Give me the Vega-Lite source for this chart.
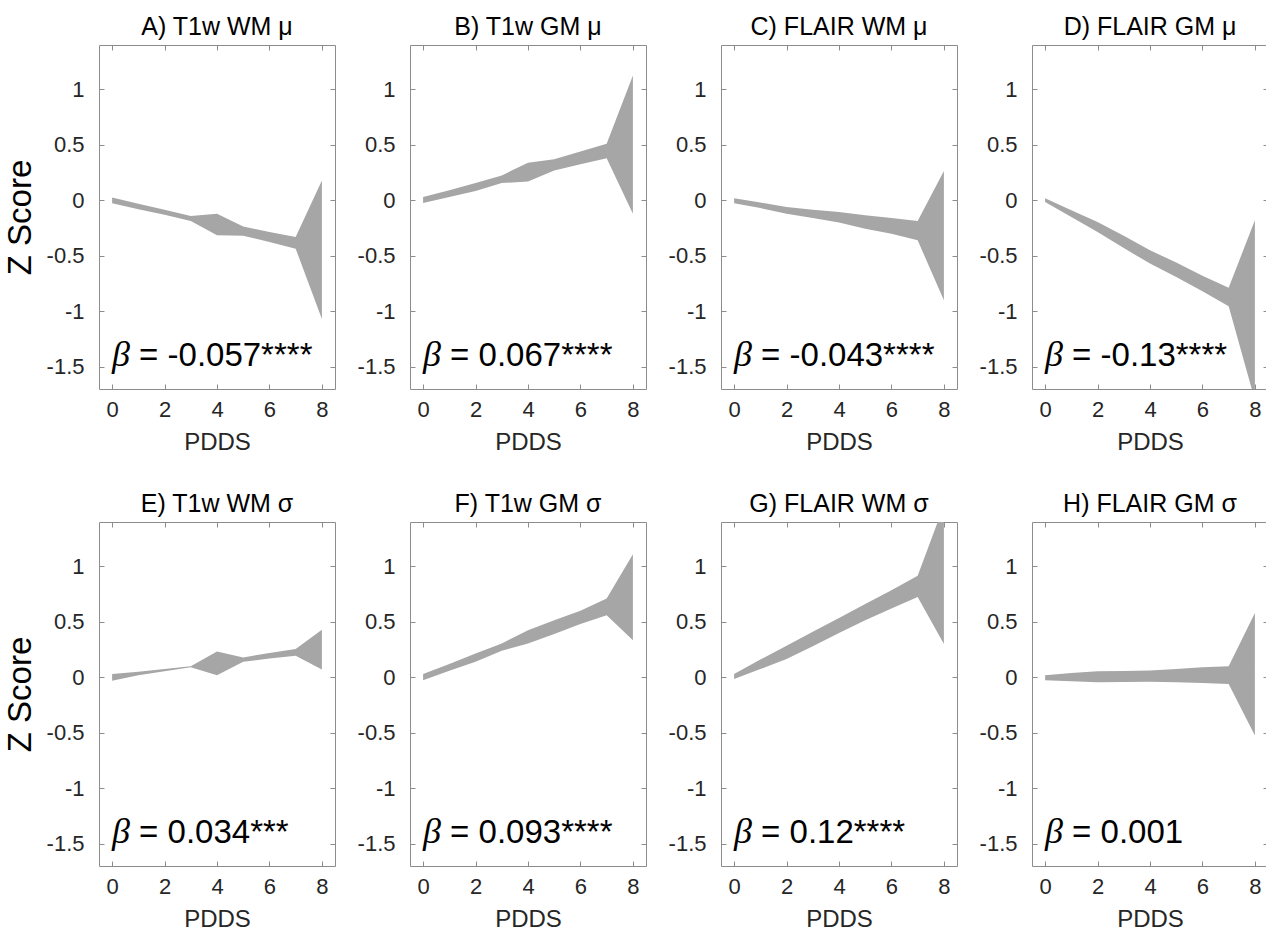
{
  "$schema": "https://vega.github.io/schema/vega-lite/v6.json",
  "padding": {"left": 3, "top": 14, "right": 0, "bottom": 0},
  "background": "white",
  "config": {
    "font": "Liberation Sans",
    "view": {"stroke": "#8c8c8c", "strokeWidth": 1},
    "axis": {"domain": false, "grid": false, "tickColor": "#8c8c8c", "tickSize": -5, "labelColor": "#262626", "labelFontSize": 22, "labelFont": "Liberation Sans", "titleFont": "Liberation Sans", "titleFontWeight": "normal", "titleColor": "#262626", "titleFontSize": 24},
    "axisY": {"labelPadding": 20},
    "axisX": {"labelPadding": 15, "titlePadding": 10},
    "title": {"fontSize": 25, "fontWeight": "normal", "color": "#000000", "font": "Liberation Sans", "offset": 5}
  },
  "datasets": {
    "bands": [
      {"p": "A", "pdds": 0, "hi": 0.025, "lo": -0.025},
      {"p": "A", "pdds": 1, "hi": -0.03, "lo": -0.08},
      {"p": "A", "pdds": 2, "hi": -0.085, "lo": -0.13},
      {"p": "A", "pdds": 3, "hi": -0.14, "lo": -0.185},
      {"p": "A", "pdds": 4, "hi": -0.12, "lo": -0.315},
      {"p": "A", "pdds": 5, "hi": -0.235, "lo": -0.32},
      {"p": "A", "pdds": 6, "hi": -0.285, "lo": -0.375},
      {"p": "A", "pdds": 7, "hi": -0.33, "lo": -0.435},
      {"p": "A", "pdds": 8, "hi": 0.18, "lo": -1.07},
      {"p": "B", "pdds": 0, "hi": 0.03, "lo": -0.024},
      {"p": "B", "pdds": 1, "hi": 0.09, "lo": 0.03},
      {"p": "B", "pdds": 2, "hi": 0.156, "lo": 0.084},
      {"p": "B", "pdds": 3, "hi": 0.225, "lo": 0.156},
      {"p": "B", "pdds": 4, "hi": 0.34, "lo": 0.17},
      {"p": "B", "pdds": 5, "hi": 0.37, "lo": 0.27},
      {"p": "B", "pdds": 6, "hi": 0.44, "lo": 0.325},
      {"p": "B", "pdds": 7, "hi": 0.51, "lo": 0.38},
      {"p": "B", "pdds": 8, "hi": 1.126, "lo": -0.12},
      {"p": "C", "pdds": 0, "hi": 0.02, "lo": -0.025},
      {"p": "C", "pdds": 1, "hi": -0.02, "lo": -0.07},
      {"p": "C", "pdds": 2, "hi": -0.06, "lo": -0.12},
      {"p": "C", "pdds": 3, "hi": -0.085, "lo": -0.16},
      {"p": "C", "pdds": 4, "hi": -0.105, "lo": -0.2},
      {"p": "C", "pdds": 5, "hi": -0.135, "lo": -0.255},
      {"p": "C", "pdds": 6, "hi": -0.16, "lo": -0.3},
      {"p": "C", "pdds": 7, "hi": -0.185, "lo": -0.36},
      {"p": "C", "pdds": 8, "hi": 0.265, "lo": -0.9},
      {"p": "D", "pdds": 0, "hi": 0.02, "lo": -0.015},
      {"p": "D", "pdds": 1, "hi": -0.09, "lo": -0.15},
      {"p": "D", "pdds": 2, "hi": -0.195, "lo": -0.285},
      {"p": "D", "pdds": 3, "hi": -0.32, "lo": -0.43},
      {"p": "D", "pdds": 4, "hi": -0.45, "lo": -0.57},
      {"p": "D", "pdds": 5, "hi": -0.56, "lo": -0.69},
      {"p": "D", "pdds": 6, "hi": -0.68, "lo": -0.82},
      {"p": "D", "pdds": 7, "hi": -0.787, "lo": -0.955},
      {"p": "D", "pdds": 8, "hi": -0.18, "lo": -1.8},
      {"p": "E", "pdds": 0, "hi": 0.03, "lo": -0.03},
      {"p": "E", "pdds": 1, "hi": 0.05, "lo": 0.02},
      {"p": "E", "pdds": 2, "hi": 0.075, "lo": 0.055},
      {"p": "E", "pdds": 3, "hi": 0.1, "lo": 0.09},
      {"p": "E", "pdds": 4, "hi": 0.233, "lo": 0.02},
      {"p": "E", "pdds": 5, "hi": 0.18, "lo": 0.14},
      {"p": "E", "pdds": 6, "hi": 0.22, "lo": 0.17},
      {"p": "E", "pdds": 7, "hi": 0.255, "lo": 0.195},
      {"p": "E", "pdds": 8, "hi": 0.43, "lo": 0.07},
      {"p": "F", "pdds": 0, "hi": 0.03, "lo": -0.025},
      {"p": "F", "pdds": 1, "hi": 0.12, "lo": 0.06},
      {"p": "F", "pdds": 2, "hi": 0.215, "lo": 0.14},
      {"p": "F", "pdds": 3, "hi": 0.305, "lo": 0.24},
      {"p": "F", "pdds": 4, "hi": 0.425, "lo": 0.305},
      {"p": "F", "pdds": 5, "hi": 0.515, "lo": 0.39},
      {"p": "F", "pdds": 6, "hi": 0.6, "lo": 0.48},
      {"p": "F", "pdds": 7, "hi": 0.71, "lo": 0.56},
      {"p": "F", "pdds": 8, "hi": 1.11, "lo": 0.335},
      {"p": "G", "pdds": 0, "hi": 0.03, "lo": -0.015},
      {"p": "G", "pdds": 1, "hi": 0.16, "lo": 0.075},
      {"p": "G", "pdds": 2, "hi": 0.285, "lo": 0.165},
      {"p": "G", "pdds": 3, "hi": 0.41, "lo": 0.28},
      {"p": "G", "pdds": 4, "hi": 0.535, "lo": 0.4},
      {"p": "G", "pdds": 5, "hi": 0.66, "lo": 0.515},
      {"p": "G", "pdds": 6, "hi": 0.785, "lo": 0.62},
      {"p": "G", "pdds": 7, "hi": 0.915, "lo": 0.725},
      {"p": "G", "pdds": 8, "hi": 1.55, "lo": 0.3},
      {"p": "H", "pdds": 0, "hi": 0.02, "lo": -0.025},
      {"p": "H", "pdds": 1, "hi": 0.04, "lo": -0.035},
      {"p": "H", "pdds": 2, "hi": 0.055, "lo": -0.045},
      {"p": "H", "pdds": 3, "hi": 0.058, "lo": -0.042},
      {"p": "H", "pdds": 4, "hi": 0.062, "lo": -0.04},
      {"p": "H", "pdds": 5, "hi": 0.075, "lo": -0.045},
      {"p": "H", "pdds": 6, "hi": 0.09, "lo": -0.05},
      {"p": "H", "pdds": 7, "hi": 0.1, "lo": -0.06},
      {"p": "H", "pdds": 8, "hi": 0.58, "lo": -0.525}
    ],
    "labels": [
      {"p": "A", "x": 0, "z": -1.49, "t": "= -0.057****"},
      {"p": "B", "x": 0, "z": -1.49, "t": "= 0.067****"},
      {"p": "C", "x": 0, "z": -1.49, "t": "= -0.043****"},
      {"p": "D", "x": 0, "z": -1.49, "t": "= -0.13****"},
      {"p": "E", "x": 0, "z": -1.49, "t": "= 0.034***"},
      {"p": "F", "x": 0, "z": -1.49, "t": "= 0.093****"},
      {"p": "G", "x": 0, "z": -1.49, "t": "= 0.12****"},
      {"p": "H", "x": 0, "z": -1.49, "t": "= 0.001"}
    ]
  },
  "vconcat": [
    {
      "spacing": 20,
      "hconcat": [
        {"width": 236, "height": 344, "title": "A) T1w WM μ", "resolve": {"axis": {"x": "independent", "y": "independent"}}, "layer": [
          {"data": {"name": "bands"}, "transform": [{"filter": "datum.p == 'A'"}], "mark": {"type": "area", "color": "#a6a6a6", "opacity": 1, "clip": true},
           "encoding": {"x": {"field": "pdds", "type": "quantitative", "scale": {"domain": [-0.5, 8.5], "nice": false, "zero": false}, "axis": {"orient": "bottom", "values": [0, 2, 4, 6, 8], "title": "PDDS"}},
                        "y": {"field": "hi", "type": "quantitative", "scale": {"domain": [-1.7, 1.4], "nice": false, "zero": false}, "axis": {"orient": "left", "values": [-1.5, -1, -0.5, 0, 0.5, 1], "labelExpr": "'' + datum.value", "title": "Z Score", "titleFontSize": 33, "titleColor": "#000000", "titlePadding": 9}},
                        "y2": {"field": "lo"}}},
          {"data": {"name": "labels"}, "transform": [{"filter": "datum.p == 'A'"}], "mark": {"type": "text", "align": "left", "baseline": "alphabetic", "fontSize": 36, "font": "Liberation Serif", "fontStyle": "italic", "color": "#000000", "text": "β"},
           "encoding": {"x": {"field": "x", "type": "quantitative", "axis": {"orient": "top", "labels": false, "title": null, "values": [0, 2, 4, 6, 8]}}, "y": {"field": "z", "type": "quantitative", "axis": {"orient": "right", "labels": false, "title": null, "values": [-1.5, -1, -0.5, 0, 0.5, 1]}}}},
          {"data": {"name": "labels"}, "transform": [{"filter": "datum.p == 'A'"}], "mark": {"type": "text", "align": "left", "baseline": "alphabetic", "fontSize": 33, "dx": 27, "color": "#000000"},
           "encoding": {"x": {"field": "x", "type": "quantitative", "axis": null}, "y": {"field": "z", "type": "quantitative", "axis": null}, "text": {"field": "t"}}}
        ]},
        {"width": 236, "height": 344, "title": "B) T1w GM μ", "resolve": {"axis": {"x": "independent", "y": "independent"}}, "layer": [
          {"data": {"name": "bands"}, "transform": [{"filter": "datum.p == 'B'"}], "mark": {"type": "area", "color": "#a6a6a6", "opacity": 1, "clip": true},
           "encoding": {"x": {"field": "pdds", "type": "quantitative", "scale": {"domain": [-0.5, 8.5], "nice": false, "zero": false}, "axis": {"orient": "bottom", "values": [0, 2, 4, 6, 8], "title": "PDDS"}},
                        "y": {"field": "hi", "type": "quantitative", "scale": {"domain": [-1.7, 1.4], "nice": false, "zero": false}, "axis": {"orient": "left", "values": [-1.5, -1, -0.5, 0, 0.5, 1], "labelExpr": "'' + datum.value", "title": null}},
                        "y2": {"field": "lo"}}},
          {"data": {"name": "labels"}, "transform": [{"filter": "datum.p == 'B'"}], "mark": {"type": "text", "align": "left", "baseline": "alphabetic", "fontSize": 36, "font": "Liberation Serif", "fontStyle": "italic", "color": "#000000", "text": "β"},
           "encoding": {"x": {"field": "x", "type": "quantitative", "axis": {"orient": "top", "labels": false, "title": null, "values": [0, 2, 4, 6, 8]}}, "y": {"field": "z", "type": "quantitative", "axis": {"orient": "right", "labels": false, "title": null, "values": [-1.5, -1, -0.5, 0, 0.5, 1]}}}},
          {"data": {"name": "labels"}, "transform": [{"filter": "datum.p == 'B'"}], "mark": {"type": "text", "align": "left", "baseline": "alphabetic", "fontSize": 33, "dx": 27, "color": "#000000"},
           "encoding": {"x": {"field": "x", "type": "quantitative", "axis": null}, "y": {"field": "z", "type": "quantitative", "axis": null}, "text": {"field": "t"}}}
        ]},
        {"width": 236, "height": 344, "title": "C) FLAIR WM μ", "resolve": {"axis": {"x": "independent", "y": "independent"}}, "layer": [
          {"data": {"name": "bands"}, "transform": [{"filter": "datum.p == 'C'"}], "mark": {"type": "area", "color": "#a6a6a6", "opacity": 1, "clip": true},
           "encoding": {"x": {"field": "pdds", "type": "quantitative", "scale": {"domain": [-0.5, 8.5], "nice": false, "zero": false}, "axis": {"orient": "bottom", "values": [0, 2, 4, 6, 8], "title": "PDDS"}},
                        "y": {"field": "hi", "type": "quantitative", "scale": {"domain": [-1.7, 1.4], "nice": false, "zero": false}, "axis": {"orient": "left", "values": [-1.5, -1, -0.5, 0, 0.5, 1], "labelExpr": "'' + datum.value", "title": null}},
                        "y2": {"field": "lo"}}},
          {"data": {"name": "labels"}, "transform": [{"filter": "datum.p == 'C'"}], "mark": {"type": "text", "align": "left", "baseline": "alphabetic", "fontSize": 36, "font": "Liberation Serif", "fontStyle": "italic", "color": "#000000", "text": "β"},
           "encoding": {"x": {"field": "x", "type": "quantitative", "axis": {"orient": "top", "labels": false, "title": null, "values": [0, 2, 4, 6, 8]}}, "y": {"field": "z", "type": "quantitative", "axis": {"orient": "right", "labels": false, "title": null, "values": [-1.5, -1, -0.5, 0, 0.5, 1]}}}},
          {"data": {"name": "labels"}, "transform": [{"filter": "datum.p == 'C'"}], "mark": {"type": "text", "align": "left", "baseline": "alphabetic", "fontSize": 33, "dx": 27, "color": "#000000"},
           "encoding": {"x": {"field": "x", "type": "quantitative", "axis": null}, "y": {"field": "z", "type": "quantitative", "axis": null}, "text": {"field": "t"}}}
        ]},
        {"width": 236, "height": 344, "title": "D) FLAIR GM μ", "resolve": {"axis": {"x": "independent", "y": "independent"}}, "layer": [
          {"data": {"name": "bands"}, "transform": [{"filter": "datum.p == 'D'"}], "mark": {"type": "area", "color": "#a6a6a6", "opacity": 1, "clip": true},
           "encoding": {"x": {"field": "pdds", "type": "quantitative", "scale": {"domain": [-0.5, 8.5], "nice": false, "zero": false}, "axis": {"orient": "bottom", "values": [0, 2, 4, 6, 8], "title": "PDDS"}},
                        "y": {"field": "hi", "type": "quantitative", "scale": {"domain": [-1.7, 1.4], "nice": false, "zero": false}, "axis": {"orient": "left", "values": [-1.5, -1, -0.5, 0, 0.5, 1], "labelExpr": "'' + datum.value", "title": null}},
                        "y2": {"field": "lo"}}},
          {"data": {"name": "labels"}, "transform": [{"filter": "datum.p == 'D'"}], "mark": {"type": "text", "align": "left", "baseline": "alphabetic", "fontSize": 36, "font": "Liberation Serif", "fontStyle": "italic", "color": "#000000", "text": "β"},
           "encoding": {"x": {"field": "x", "type": "quantitative", "axis": {"orient": "top", "labels": false, "title": null, "values": [0, 2, 4, 6, 8]}}, "y": {"field": "z", "type": "quantitative", "axis": {"orient": "right", "labels": false, "title": null, "values": [-1.5, -1, -0.5, 0, 0.5, 1]}}}},
          {"data": {"name": "labels"}, "transform": [{"filter": "datum.p == 'D'"}], "mark": {"type": "text", "align": "left", "baseline": "alphabetic", "fontSize": 33, "dx": 27, "color": "#000000"},
           "encoding": {"x": {"field": "x", "type": "quantitative", "axis": null}, "y": {"field": "z", "type": "quantitative", "axis": null}, "text": {"field": "t"}}}
        ]}
      ]
    },
    {
      "spacing": 20,
      "hconcat": [
        {"width": 236, "height": 344, "title": "E) T1w WM σ", "resolve": {"axis": {"x": "independent", "y": "independent"}}, "layer": [
          {"data": {"name": "bands"}, "transform": [{"filter": "datum.p == 'E'"}], "mark": {"type": "area", "color": "#a6a6a6", "opacity": 1, "clip": true},
           "encoding": {"x": {"field": "pdds", "type": "quantitative", "scale": {"domain": [-0.5, 8.5], "nice": false, "zero": false}, "axis": {"orient": "bottom", "values": [0, 2, 4, 6, 8], "title": "PDDS"}},
                        "y": {"field": "hi", "type": "quantitative", "scale": {"domain": [-1.7, 1.4], "nice": false, "zero": false}, "axis": {"orient": "left", "values": [-1.5, -1, -0.5, 0, 0.5, 1], "labelExpr": "'' + datum.value", "title": "Z Score", "titleFontSize": 33, "titleColor": "#000000", "titlePadding": 9}},
                        "y2": {"field": "lo"}}},
          {"data": {"name": "labels"}, "transform": [{"filter": "datum.p == 'E'"}], "mark": {"type": "text", "align": "left", "baseline": "alphabetic", "fontSize": 36, "font": "Liberation Serif", "fontStyle": "italic", "color": "#000000", "text": "β"},
           "encoding": {"x": {"field": "x", "type": "quantitative", "axis": {"orient": "top", "labels": false, "title": null, "values": [0, 2, 4, 6, 8]}}, "y": {"field": "z", "type": "quantitative", "axis": {"orient": "right", "labels": false, "title": null, "values": [-1.5, -1, -0.5, 0, 0.5, 1]}}}},
          {"data": {"name": "labels"}, "transform": [{"filter": "datum.p == 'E'"}], "mark": {"type": "text", "align": "left", "baseline": "alphabetic", "fontSize": 33, "dx": 27, "color": "#000000"},
           "encoding": {"x": {"field": "x", "type": "quantitative", "axis": null}, "y": {"field": "z", "type": "quantitative", "axis": null}, "text": {"field": "t"}}}
        ]},
        {"width": 236, "height": 344, "title": "F) T1w GM σ", "resolve": {"axis": {"x": "independent", "y": "independent"}}, "layer": [
          {"data": {"name": "bands"}, "transform": [{"filter": "datum.p == 'F'"}], "mark": {"type": "area", "color": "#a6a6a6", "opacity": 1, "clip": true},
           "encoding": {"x": {"field": "pdds", "type": "quantitative", "scale": {"domain": [-0.5, 8.5], "nice": false, "zero": false}, "axis": {"orient": "bottom", "values": [0, 2, 4, 6, 8], "title": "PDDS"}},
                        "y": {"field": "hi", "type": "quantitative", "scale": {"domain": [-1.7, 1.4], "nice": false, "zero": false}, "axis": {"orient": "left", "values": [-1.5, -1, -0.5, 0, 0.5, 1], "labelExpr": "'' + datum.value", "title": null}},
                        "y2": {"field": "lo"}}},
          {"data": {"name": "labels"}, "transform": [{"filter": "datum.p == 'F'"}], "mark": {"type": "text", "align": "left", "baseline": "alphabetic", "fontSize": 36, "font": "Liberation Serif", "fontStyle": "italic", "color": "#000000", "text": "β"},
           "encoding": {"x": {"field": "x", "type": "quantitative", "axis": {"orient": "top", "labels": false, "title": null, "values": [0, 2, 4, 6, 8]}}, "y": {"field": "z", "type": "quantitative", "axis": {"orient": "right", "labels": false, "title": null, "values": [-1.5, -1, -0.5, 0, 0.5, 1]}}}},
          {"data": {"name": "labels"}, "transform": [{"filter": "datum.p == 'F'"}], "mark": {"type": "text", "align": "left", "baseline": "alphabetic", "fontSize": 33, "dx": 27, "color": "#000000"},
           "encoding": {"x": {"field": "x", "type": "quantitative", "axis": null}, "y": {"field": "z", "type": "quantitative", "axis": null}, "text": {"field": "t"}}}
        ]},
        {"width": 236, "height": 344, "title": "G) FLAIR WM σ", "resolve": {"axis": {"x": "independent", "y": "independent"}}, "layer": [
          {"data": {"name": "bands"}, "transform": [{"filter": "datum.p == 'G'"}], "mark": {"type": "area", "color": "#a6a6a6", "opacity": 1, "clip": true},
           "encoding": {"x": {"field": "pdds", "type": "quantitative", "scale": {"domain": [-0.5, 8.5], "nice": false, "zero": false}, "axis": {"orient": "bottom", "values": [0, 2, 4, 6, 8], "title": "PDDS"}},
                        "y": {"field": "hi", "type": "quantitative", "scale": {"domain": [-1.7, 1.4], "nice": false, "zero": false}, "axis": {"orient": "left", "values": [-1.5, -1, -0.5, 0, 0.5, 1], "labelExpr": "'' + datum.value", "title": null}},
                        "y2": {"field": "lo"}}},
          {"data": {"name": "labels"}, "transform": [{"filter": "datum.p == 'G'"}], "mark": {"type": "text", "align": "left", "baseline": "alphabetic", "fontSize": 36, "font": "Liberation Serif", "fontStyle": "italic", "color": "#000000", "text": "β"},
           "encoding": {"x": {"field": "x", "type": "quantitative", "axis": {"orient": "top", "labels": false, "title": null, "values": [0, 2, 4, 6, 8]}}, "y": {"field": "z", "type": "quantitative", "axis": {"orient": "right", "labels": false, "title": null, "values": [-1.5, -1, -0.5, 0, 0.5, 1]}}}},
          {"data": {"name": "labels"}, "transform": [{"filter": "datum.p == 'G'"}], "mark": {"type": "text", "align": "left", "baseline": "alphabetic", "fontSize": 33, "dx": 27, "color": "#000000"},
           "encoding": {"x": {"field": "x", "type": "quantitative", "axis": null}, "y": {"field": "z", "type": "quantitative", "axis": null}, "text": {"field": "t"}}}
        ]},
        {"width": 236, "height": 344, "title": "H) FLAIR GM σ", "resolve": {"axis": {"x": "independent", "y": "independent"}}, "layer": [
          {"data": {"name": "bands"}, "transform": [{"filter": "datum.p == 'H'"}], "mark": {"type": "area", "color": "#a6a6a6", "opacity": 1, "clip": true},
           "encoding": {"x": {"field": "pdds", "type": "quantitative", "scale": {"domain": [-0.5, 8.5], "nice": false, "zero": false}, "axis": {"orient": "bottom", "values": [0, 2, 4, 6, 8], "title": "PDDS"}},
                        "y": {"field": "hi", "type": "quantitative", "scale": {"domain": [-1.7, 1.4], "nice": false, "zero": false}, "axis": {"orient": "left", "values": [-1.5, -1, -0.5, 0, 0.5, 1], "labelExpr": "'' + datum.value", "title": null}},
                        "y2": {"field": "lo"}}},
          {"data": {"name": "labels"}, "transform": [{"filter": "datum.p == 'H'"}], "mark": {"type": "text", "align": "left", "baseline": "alphabetic", "fontSize": 36, "font": "Liberation Serif", "fontStyle": "italic", "color": "#000000", "text": "β"},
           "encoding": {"x": {"field": "x", "type": "quantitative", "axis": {"orient": "top", "labels": false, "title": null, "values": [0, 2, 4, 6, 8]}}, "y": {"field": "z", "type": "quantitative", "axis": {"orient": "right", "labels": false, "title": null, "values": [-1.5, -1, -0.5, 0, 0.5, 1]}}}},
          {"data": {"name": "labels"}, "transform": [{"filter": "datum.p == 'H'"}], "mark": {"type": "text", "align": "left", "baseline": "alphabetic", "fontSize": 33, "dx": 27, "color": "#000000"},
           "encoding": {"x": {"field": "x", "type": "quantitative", "axis": null}, "y": {"field": "z", "type": "quantitative", "axis": null}, "text": {"field": "t"}}}
        ]}
      ]
    }
  ],
  "spacing": 36
}
